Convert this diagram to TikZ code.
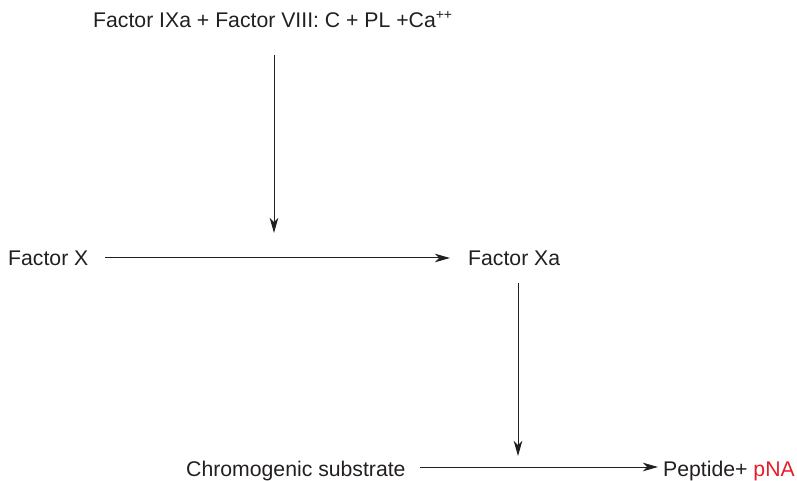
\documentclass[tikz,border=0pt]{standalone}
\usepackage{fontspec}
\setmainfont{Liberation Sans}
\usetikzlibrary{arrows.meta}
\definecolor{pnared}{RGB}{230,30,40}
\definecolor{inkgray}{RGB}{35,31,32}
\newcommand{\ionsup}[1]{\raisebox{0.4em}{\fontsize{14}{16}\selectfont #1}}
\tikzset{
  label/.style={inner sep=0pt, anchor=base west, text=inkgray,
    font=\fontsize{21.3}{25}\selectfont},
  flow/.style={draw=inkgray, line width=1bp,
    -{Stealth[length=15bp,width=8.5bp,inset=4bp]}}
}
\begin{document}
\begin{tikzpicture}[x=1bp,y=-1bp]
\useasboundingbox (0,0) rectangle (797,481);
% reaction participants
\node[label] (cofactors) at (93,27.5) {Factor IXa + Factor VIII: C + PL +Ca\ionsup{++}};
\node[label] (fx) at (8,265.5) {Factor X};
\node[label] (fxa) at (468,265.5) {Factor Xa};
\node[label] (substrate) at (186,476.5) {Chromogenic substrate};
\node[label] (product) at (663,476.5) {Peptide+ \textcolor{pnared}{pNA}};
% arrow end points
\coordinate (c1) at (274,55);
\coordinate (c2) at (274,233);
\coordinate (x1) at (105,258);
\coordinate (x2) at (450,258);
\coordinate (d1) at (518,283);
\coordinate (d2) at (518,456);
\coordinate (s1) at (420,467);
\coordinate (s2) at (658,467);
% activation steps
\draw[flow] (c1) -- (c2);
\draw[flow] (x1) -- (x2);
\draw[flow] (d1) -- (d2);
\draw[flow] (s1) -- (s2);
\end{tikzpicture}
\end{document}
